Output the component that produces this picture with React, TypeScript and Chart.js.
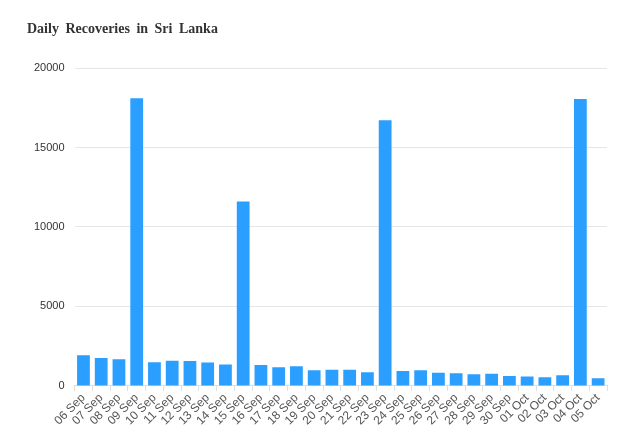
import React, { useEffect, useRef } from "react";
import { Chart, registerables } from "chart.js";

Chart.register(...registerables);

const categories = [
  "06 Sep", "07 Sep", "08 Sep", "09 Sep", "10 Sep", "11 Sep", "12 Sep", "13 Sep", "14 Sep", "15 Sep",
  "16 Sep", "17 Sep", "18 Sep", "19 Sep", "20 Sep", "21 Sep", "22 Sep", "23 Sep", "24 Sep", "25 Sep",
  "26 Sep", "27 Sep", "28 Sep", "29 Sep", "30 Sep", "01 Oct", "02 Oct", "03 Oct", "04 Oct", "05 Oct",
];

const recoveries = [
  1930, 1760, 1680, 18100, 1490, 1590, 1570, 1470, 1340, 11600,
  1320, 1170, 1230, 980, 1025, 1025, 855, 16720, 940, 980,
  835, 790, 730, 770, 620, 600, 540, 665, 18050, 475,
];

const titleText = "Daily Recoveries in Sri Lanka";

export default function App() {
  const ref = useRef<HTMLCanvasElement | null>(null);

  useEffect(() => {
    if (!ref.current) return;
    const chart = new Chart(ref.current, {
      type: "bar",
      data: {
        labels: categories,
        datasets: [
          {
            label: "Recoveries",
            data: recoveries,
            backgroundColor: "#2A9FFF",
            categoryPercentage: 0.8,
            barPercentage: 0.9,
          },
        ],
      },
      options: {
        animation: false,
        responsive: true,
        maintainAspectRatio: false,
        layout: { padding: { top: 60, left: 16, right: 19, bottom: 6 } },
        plugins: {
          legend: { display: false },
          tooltip: { enabled: false },
          title: { display: false },
        },
        scales: {
          x: {
            grid: { drawOnChartArea: false, drawTicks: true, tickLength: 5, color: "#e0e0e0" },
            border: { display: true, color: "#e0e0e0" },
            ticks: {
              maxRotation: 45,
              minRotation: 45,
              autoSkip: false,
              color: "#555",
              font: { family: "Arial, 'Liberation Sans', sans-serif", size: 12 },
              padding: 0,
            },
          },
          y: {
            min: 0,
            max: 20000,
            ticks: {
              stepSize: 5000,
              color: "#333",
              padding: 10,
              font: { family: "Arial, 'Liberation Sans', sans-serif", size: 11 },
              callback: (v: any) => String(v),
            },
            grid: { color: "#e6e6e6", drawTicks: false },
            border: { display: false },
          },
        },
      },
    });
    return () => chart.destroy();
  }, []);

  return (
    <div style={{ position: "relative", width: 618, height: 426 }}>
      <div
        style={{
          position: "absolute",
          left: 19,
          top: 13,
          fontFamily: "'Times New Roman', 'Liberation Serif', serif",
          fontWeight: "bold",
          fontSize: 14,
          color: "#333",
          wordSpacing: 3,
          whiteSpace: "nowrap",
        }}
      >
        {titleText}
      </div>
      <canvas ref={ref} />
    </div>
  );
}
